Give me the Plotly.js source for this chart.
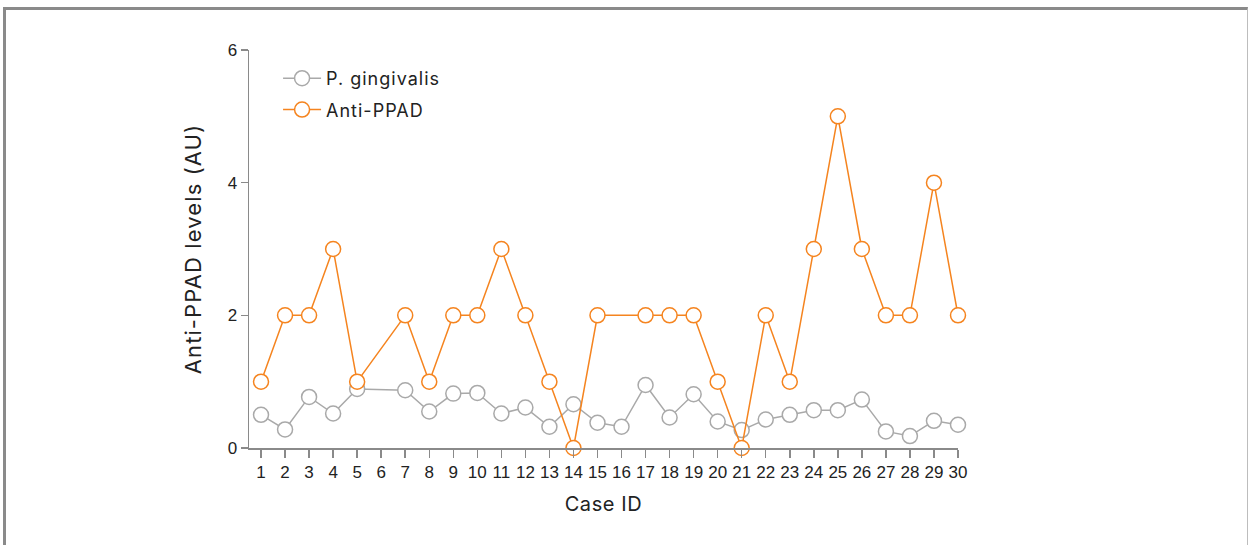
<!DOCTYPE html>
<html>
<head>
<meta charset="utf-8">
<script src="https://cdn.plot.ly/plotly-3.0.1.min.js"></script>
<style>
  html, body { margin: 0; padding: 0; background: #fff; }
  #wrap { position: relative; width: 1250px; height: 545px; overflow: hidden; }
  #chart { position: absolute; left: 0; top: 0; width: 1250px; height: 545px; }
  #frame { position: absolute; left: 3px; top: 7px; width: 1241px; height: 600px;
           border-top: 3px solid #8a8a8a; border-left: 3px solid #8a8a8a; border-right: 1px solid #bdbdbd;
           pointer-events: none; }
  #chart .legendtext { letter-spacing: 1px; }
  #chart .legend .scrollbox, #chart .legend { clip-path: none !important; }
  #chart .ytitle { letter-spacing: 1.1px; }
  #chart .xtitle { letter-spacing: 0.6px; }
</style>
</head>
<body>
<div id="wrap">
  <div id="chart"></div>
  <div id="frame"></div>
</div>
<script>
const caseIds = [1,2,3,4,5,6,7,8,9,10,11,12,13,14,15,16,17,18,19,20,21,22,23,24,25,26,27,28,29,30];
const pGingivalis = [0.50,0.28,0.77,0.52,0.89,null,0.87,0.55,0.82,0.83,0.52,0.61,0.32,0.66,0.38,0.32,0.95,0.46,0.81,0.40,0.27,0.43,0.50,0.57,0.57,0.73,0.25,0.18,0.41,0.35];
const antiPPAD = [1,2,2,3,1,null,2,1,2,2,3,2,1,0,2,null,2,2,2,1,0,2,1,3,5,3,2,2,4,2];
const yTicks = [0,2,4,6];

const TICKFONT = 'Liberation Sans, Arial, sans-serif';
const TEXTFONT = 'Inter, Liberation Sans, sans-serif';
const gray = '#a9a9a9';
const orange = '#f5841f';

const traces = [
  {
    x: caseIds, y: pGingivalis, name: 'P. gingivalis', type: 'scatter', mode: 'lines+markers',
    connectgaps: true, cliponaxis: false, legendgroup: 'a',
    line: { color: gray, width: 1.5 },
    marker: { symbol: 'circle', size: 15, color: '#ffffff', line: { color: gray, width: 1.5 } }
  },
  {
    x: caseIds, y: antiPPAD, name: 'Anti-PPAD', type: 'scatter', mode: 'lines+markers',
    connectgaps: true, cliponaxis: false, legendgroup: 'b',
    line: { color: orange, width: 1.5 },
    marker: { symbol: 'circle', size: 15, color: '#ffffff', line: { color: orange, width: 1.5 } }
  }
];

const layout = {
  width: 1250, height: 545,
  margin: { l: 249, r: 292, t: 50, b: 97 },
  paper_bgcolor: 'rgba(0,0,0,0)', plot_bgcolor: 'rgba(0,0,0,0)',
  font: { family: TICKFONT, color: '#222', size: 17 },
  showlegend: true,
  legend: {
    x: 0.041, y: 0.975, xanchor: 'left', yanchor: 'top',
    bgcolor: 'rgba(0,0,0,0)', font: { family: TEXTFONT, size: 18, color: '#222' },
    traceorder: 'grouped', tracegroupgap: 5, itemwidth: 38
  },
  xaxis: {
    range: [0.5, 30], tickmode: 'array', tickvals: caseIds, ticktext: caseIds.map(String),
    showgrid: false, zeroline: false, showline: true, linecolor: '#8a8a8a', linewidth: 1.5,
    ticks: 'outside', ticklen: 8, tickcolor: '#8a8a8a', tickwidth: 1.5,
    tickfont: { family: TICKFONT, size: 17, color: '#222' },
    title: { text: 'Case ID', font: { family: TEXTFONT, size: 20, color: '#222' }, standoff: 16 }
  },
  yaxis: {
    range: [0, 6], tickmode: 'array', tickvals: yTicks, ticktext: yTicks.map(String),
    showgrid: false, zeroline: false, showline: true, linecolor: '#8a8a8a', linewidth: 1.5,
    ticks: 'outside', ticklen: 7, tickcolor: '#8a8a8a', tickwidth: 1.5,
    tickfont: { family: TICKFONT, size: 17, color: '#222' },
    title: { text: 'Anti-PPAD levels (AU)', font: { family: TEXTFONT, size: 22, color: '#222' }, standoff: 20 }
  }
};

Plotly.newPlot('chart', traces, layout, { displayModeBar: false, staticPlot: true });
</script>
</body>
</html>
